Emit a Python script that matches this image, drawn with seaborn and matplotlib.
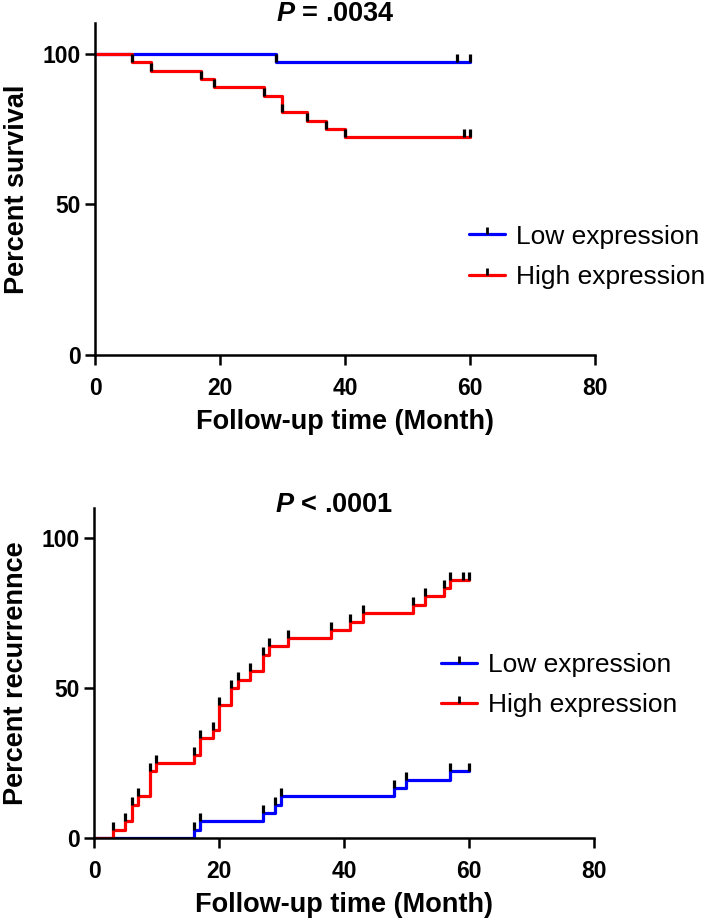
import pandas as pd
import matplotlib.pyplot as plt
import seaborn as sns
from matplotlib.lines import Line2D

# ---- data (months, percent) ----
surv_low_t = [0, 29, 60]
surv_low_pct = [100, 97.2, 97.2]
surv_low_cens = [58, 60]

surv_high_t = [0, 6, 9, 17, 19, 27, 30, 34, 37, 40, 60]
surv_high_pct = [100, 97.2, 94.4, 91.7, 88.9, 86.1, 80.6, 77.8, 75.0, 72.2, 72.2]
surv_high_cens = [59, 60]

rec_low_t = [0, 16, 17, 27, 29, 30, 48, 50, 57, 60]
rec_low_pct = [0, 2.8, 5.6, 8.3, 11.1, 13.9, 16.7, 19.4, 22.2, 22.2]
rec_low_cens = [60]

rec_high_t = [0, 3, 5, 6, 7, 9, 10, 16, 17, 19, 20, 22, 23, 25, 27, 28, 31, 38,
              41, 43, 51, 53, 56, 57, 60]
rec_high_pct = [0, 2.8, 5.6, 11.1, 13.9, 22.2, 25.0, 27.8, 33.3, 36.1, 44.4, 50.0,
                52.8, 55.6, 61.1, 63.9, 66.7, 69.4, 72.2, 75.0, 77.8, 80.6, 83.3,
                86.1, 86.1]
rec_high_cens = [59, 60]

groups = ['Low expression', 'High expression']
colors = {'Low expression': '#0000ff', 'High expression': '#ff0000'}

sns.set_style('ticks')
plt.rcParams['font.family'] = ['Liberation Sans', 'DejaVu Sans']
plt.rcParams['mathtext.fontset'] = 'custom'
plt.rcParams['mathtext.it'] = 'Liberation Sans:italic:bold'
plt.rcParams['mathtext.rm'] = 'Liberation Sans:bold'
for k in ['text.color', 'axes.labelcolor', 'xtick.color', 'ytick.color', 'axes.edgecolor']:
    plt.rcParams[k] = 'black'

tick_mark = [(0, 0), (0, 1)]


def make_df(t_low, p_low, t_high, p_high):
    a = pd.DataFrame({'t': t_low, 'pct': p_low, 'group': groups[0]})
    b = pd.DataFrame({'t': t_high, 'pct': p_high, 'group': groups[1]})
    return pd.concat([a, b], ignore_index=True)


def ticks_for(t, pct, cens):
    # a black tick at every step plus the censored times
    xs = list(t[1:-1]) + list(cens)
    ys = list(pct[1:-1]) + [pct[-1]] * len(cens)
    return xs, ys


def panel(ax, df, marks, title, title_y, ylabel, leg_anchor):
    sns.lineplot(data=df, x='t', y='pct', hue='group', palette=colors,
                 drawstyle='steps-post', linewidth=2.3, legend=False,
                 estimator=None, sort=False, ax=ax)
    for xs, ys in marks:
        ax.plot(xs, ys, ls='none', marker=tick_mark, markersize=12,
                markeredgecolor='black', markeredgewidth=2.3, zorder=5)
    ax.set_xlim(0, 80)
    ax.set_ylim(0, 110)
    ax.set_xticks([0, 20, 40, 60, 80])
    ax.set_yticks([0, 50, 100])
    ax.tick_params(labelsize=16.5, width=1.8, length=7)
    ax.tick_params(axis='x', pad=9)
    for lab in ax.get_xticklabels() + ax.get_yticklabels():
        lab.set_fontweight('bold')
    for s in ['left', 'bottom']:
        ax.spines[s].set_linewidth(1.8)
    sns.despine(ax=ax)
    ax.set_xlabel('Follow-up time (Month)', fontsize=19.5, fontweight='bold', labelpad=6.5)
    ax.set_ylabel(ylabel, fontsize=19.5, fontweight='bold', labelpad=9)
    ax.set_title(title, fontsize=19.5, fontweight='bold', x=0.48, y=title_y, pad=0)
    handles = [Line2D([0], [0], color=colors[g], lw=2.3, marker=tick_mark,
                      markersize=10, markeredgecolor='black', markeredgewidth=2)
               for g in groups]
    ax.legend(handles, groups, loc='center left', bbox_to_anchor=leg_anchor,
              frameon=False, fontsize=19, handlelength=1.35, handletextpad=0.42,
              labelspacing=0.62, numpoints=1, borderaxespad=0, borderpad=0)


fig = plt.figure(figsize=(7.09, 9.21), dpi=100)
ax1 = fig.add_axes([0.134, 0.6145, 0.705, 0.36])
ax2 = fig.add_axes([0.1326, 0.0901, 0.705, 0.358])

df_surv = make_df(surv_low_t, surv_low_pct, surv_high_t, surv_high_pct)
marks_surv = [ticks_for(surv_low_t, surv_low_pct, surv_low_cens),
              ticks_for(surv_high_t, surv_high_pct, surv_high_cens)]
panel(ax1, df_surv, marks_surv, '$P$ = .0034', 1.009, 'Percent survival', (0.748, 0.296))

df_rec = make_df(rec_low_t, rec_low_pct, rec_high_t, rec_high_pct)
marks_rec = [ticks_for(rec_low_t, rec_low_pct, rec_low_cens),
             ticks_for(rec_high_t, rec_high_pct, rec_high_cens)]
panel(ax2, df_rec, marks_rec, '$P$ < .0001', 0.988, 'Percent recurrennce', (0.694, 0.464))

plt.savefig('out.png', dpi=100)
plt.close()
